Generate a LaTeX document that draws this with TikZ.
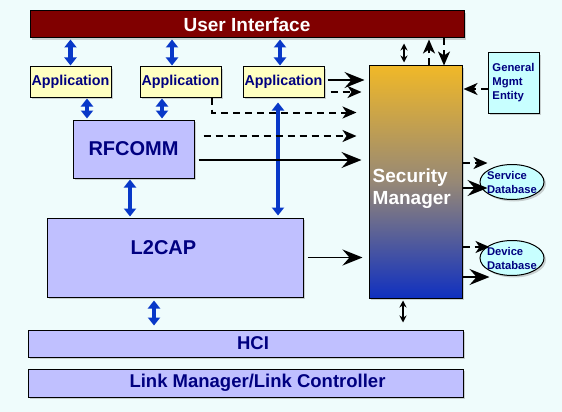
\documentclass[tikz,border=0pt]{standalone}
\usepackage{fontspec}
\setmainfont{Liberation Sans}
\usetikzlibrary{arrows.meta, positioning, shapes.geometric, shadows}
\definecolor{bgcolor}{RGB}{239, 252, 252}
\definecolor{uicolor}{RGB}{128, 0, 0}
\definecolor{appcolor}{RGB}{255, 255, 192}
\definecolor{layercolor}{RGB}{192, 192, 255}
\definecolor{entcolor}{RGB}{200, 255, 255}
\definecolor{txtcolor}{RGB}{0, 0, 128}
\definecolor{linkcolor}{RGB}{8, 56, 200}
\definecolor{smtop}{RGB}{240, 184, 40}
\definecolor{smmid}{RGB}{150, 136, 118}
\definecolor{smbot}{RGB}{16, 48, 192}
\tikzset{
	box/.style={draw=black, line width=1pt, text=txtcolor, inner sep=1pt,
		drop shadow={shadow xshift=2pt, shadow yshift=-2pt, opacity=0.35}},
	uibar/.style={box, fill=uicolor, text=white, minimum width=434pt, minimum height=27pt, font=\bfseries\fontsize{19}{22}\selectfont},
	appbox/.style={box, fill=appcolor, minimum width=81pt, minimum height=30pt, font=\bfseries\fontsize{14.3}{16}\selectfont},
	layer/.style={box, fill=layercolor, font=\bfseries\fontsize{20}{22}\selectfont},
	bar/.style={layer, minimum width=435pt, font=\bfseries\fontsize{18.5}{20}\selectfont},
	l2label/.style={text=txtcolor, inner sep=0pt, font=\bfseries\fontsize{20}{22}\selectfont},
	smbox/.style={box, top color=smtop, bottom color=smbot, middle color=smmid, minimum width=93pt, minimum height=232pt},
	smlabel/.style={text=white, align=left, inner sep=0pt, font=\bfseries\fontsize{19}{22}\selectfont},
	entity/.style={box, fill=entcolor, minimum width=51pt, minimum height=60pt, align=left, font=\bfseries\fontsize{11.3}{14}\selectfont},
	dbase/.style={box, ellipse, fill=entcolor, minimum width=64pt, minimum height=35pt, inner sep=0pt},
	dblabel/.style={text=txtcolor, align=left, inner sep=0pt, font=\bfseries\fontsize{11.2}{14}\selectfont},
	link/.style={{Triangle[width=12pt,length=8pt]}-{Triangle[width=12pt,length=8pt]}, line width=4.5pt, color=linkcolor, shorten <=1pt, shorten >=1pt},
	flow/.style={-{Stealth[length=20pt,width=16pt,inset=7pt]}, line width=1.7pt},
	ctrl/.style={-{Stealth[length=14pt,width=12pt,inset=4pt]}, line width=2pt, dash pattern=on 7pt off 5pt},
	smallarr/.style={{Stealth[length=7pt,width=7pt]}-{Stealth[length=7pt,width=7pt]}, line width=1.2pt}
}
\begin{document}
\begin{tikzpicture}[x=1pt, y=-1pt, on grid]
	\fill[bgcolor] (0,0) rectangle (562,412);
	\useasboundingbox (0,0) rectangle (562,412);

	% Nodes
	\node (ui) [uibar] at (247,24.5) {User Interface};
	\node (app1) [appbox] at (70.5,82) {Application};
	\node (app2) [appbox, right=110pt of app1] {Application};
	\node (app3) [appbox, right=103pt of app2] {Application};
	\node (rfcomm) [layer, minimum width=121pt, minimum height=58pt] at (133.5,149) {RFCOMM};
	\node (l2cap) [layer, minimum width=256pt, minimum height=79pt] at (175,257.5) {};
	\node (l2text) [l2label] at ([xshift=-11.5pt,yshift=9.5pt]l2cap.center) {L2CAP};
	\node (hci) [bar, minimum height=27pt] at (245.5,343.5) {\hspace*{15pt}HCI};
	\node (lm) [bar, minimum height=28pt, below=39.5pt of hci] {\hspace*{24pt}Link Manager/Link Controller};

	\node (sm) [smbox] at (415.5,182) {};
	\node (smtext) [smlabel, anchor=west] at ([xshift=4pt,yshift=-7pt]sm.west) {Security\\Manager};
	\node (gme) [entity] at (513.5,83) {General\\Mgmt\\Entity};
	\node (sdb) [dbase] at (512,182) {};
	\node (sdbtext) [dblabel] at (sdb) {Service\\Database};
	\node (ddb) [dbase, below=76pt of sdb] {};
	\node (ddbtext) [dblabel] at (ddb) {Device\\Database};

	% Blue links
	\draw [link] (app1.north) -- (app1.north |- ui.south);
	\coordinate (u2) at ([xshift=-8.5pt]app2.north);
	\draw [link] (u2) -- (u2 |- ui.south);
	\coordinate (u3) at ([xshift=-3.5pt]app3.north);
	\draw [link] (u3) -- (u3 |- ui.south);
	\coordinate (r1) at ([xshift=16.5pt]app1.south);
	\draw [link] (r1) -- (r1 |- rfcomm.north);
	\coordinate (r2) at ([xshift=-18.5pt]app2.south);
	\draw [link] (r2) -- (r2 |- rfcomm.north);
	\coordinate (r3) at ([xshift=-5.5pt]app3.south);
	\draw [link, shorten <=5pt, shorten >=2pt] (r3) -- (r3 |- l2cap.north);
	\coordinate (r4) at ([xshift=-3.5pt]rfcomm.south);
	\draw [link] (r4) -- (r4 |- l2cap.north);
	\coordinate (r5) at ([xshift=-21pt]l2cap.south);
	\draw [link, shorten <=3pt, shorten >=4pt] (r5) -- (r5 |- hci.north);

	% Arrows into the security manager
	\coordinate (s1) at ([yshift=2pt]app3.east);
	\draw [flow, shorten <=3pt, shorten >=4pt] (s1) -- (s1 -| sm.west);
	\coordinate (s2) at ([yshift=-10pt]app3.east);
	\draw [ctrl, shorten <=6pt, shorten >=7pt] (s2) -- (s2 -| sm.west);
	\coordinate (s3) at ([xshift=31.5pt]app2.south);
	\coordinate (s3b) at ([yshift=-15pt]s3);
	\draw [ctrl, shorten >=12pt] (s3) |- (s3b -| sm.west);
	\coordinate (s4) at ([yshift=13pt]rfcomm.east);
	\draw [ctrl, shorten <=9pt, shorten >=12pt] (s4) -- (s4 -| sm.west);
	\coordinate (s5) at ([yshift=-11pt]rfcomm.east);
	\draw [flow, shorten <=4pt, shorten >=7pt] (s5) -- (s5 -| sm.west);
	\draw [flow, shorten <=4pt, shorten >=6pt] (l2cap.east) -- (l2cap.east -| sm.west);
	\coordinate (s7) at ([yshift=-6pt]gme.west);
	\draw [ctrl, shorten >=1pt] (s7) -- (s7 -| sm.east);

	% Security manager to UI and HCI
	\coordinate (t1) at ([xshift=-11.5pt]sm.north);
	\draw [smallarr, shorten <=3pt, shorten >=5pt] (t1) -- (t1 |- ui.south);
	\coordinate (t2) at ([xshift=13.5pt]sm.north);
	\draw [ctrl, shorten >=1pt] (t2) -- (t2 |- ui.south);
	\coordinate (t3) at ([xshift=28.5pt]sm.north);
	\draw [ctrl] (t3 |- ui.south) -- (t3);
	\coordinate (t4) at ([xshift=-12.5pt]sm.south);
	\draw [smallarr, shorten <=2pt, shorten >=7pt] (t4) -- (t4 |- hci.north);

	% Databases
	\coordinate (d1) at ([xshift=8pt,yshift=19pt]sdb.west);
	\draw [ctrl] (d1 -| sm.east) -- (d1);
	\coordinate (d2) at ([xshift=8pt,yshift=-6pt]sdb.west);
	\draw [flow] (d2 -| sm.east) -- (d2);
	\coordinate (d3) at ([xshift=10pt,yshift=11pt]ddb.west);
	\draw [ctrl] (d3 -| sm.east) -- (d3);
	\coordinate (d4) at ([xshift=10pt,yshift=-19pt]ddb.west);
	\draw [flow] (d4 -| sm.east) -- (d4);

\end{tikzpicture}
\end{document}
